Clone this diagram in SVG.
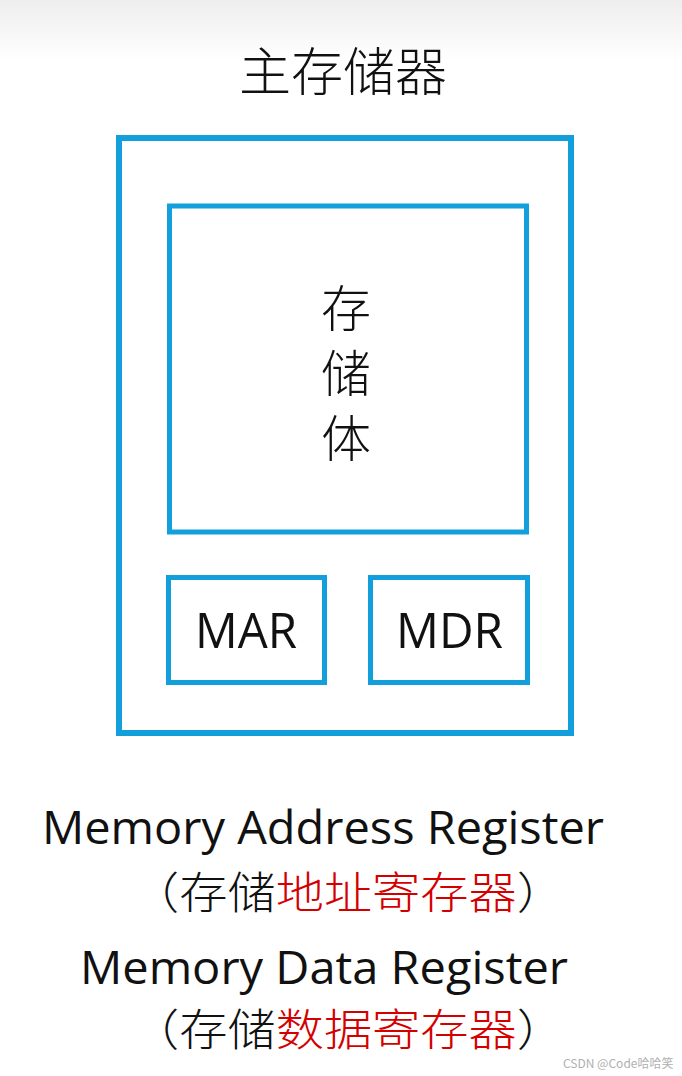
<svg xmlns="http://www.w3.org/2000/svg" width="682" height="1076" viewBox="0 0 682 1076">
<defs>
<linearGradient id="bg" x1="0" y1="0" x2="0" y2="1">
<stop offset="0" stop-color="#eeeeee"/>
<stop offset="1" stop-color="#ffffff"/>
</linearGradient>
<style>
.box{fill:none;stroke:#129fdc;}
.cjk{font-family:"Noto Sans CJK SC","Noto Sans",sans-serif;font-weight:300;fill:#111;}
.lat{font-family:"Open Sans","Noto Sans","Liberation Sans",sans-serif;fill:#111;}
.red{fill:#d40000;}
</style>
</defs>
<rect x="0" y="0" width="682" height="1076" fill="#ffffff"/>
<rect x="0" y="0" width="682" height="60" fill="url(#bg)"/>
<g id="title"><text class="cjk" x="343" y="91" font-size="52" text-anchor="middle">主存储器</text></g>
<g id="main-memory"><rect class="box" x="119" y="138" width="452" height="595" stroke-width="6"/></g>
<g id="storage-body">
<rect class="box" x="169.5" y="206" width="357" height="326" stroke-width="5"/>
<text class="cjk" x="346" y="327" font-size="50" text-anchor="middle">存</text>
<text class="cjk" x="346" y="392" font-size="50" text-anchor="middle">储</text>
<text class="cjk" x="346" y="457" font-size="50" text-anchor="middle">体</text>
</g>
<g id="mar">
<rect class="box" x="168.5" y="577.5" width="156" height="105" stroke-width="5"/>
<text class="lat" x="195" y="648" font-size="50" textLength="102" lengthAdjust="spacingAndGlyphs">MAR</text>
</g>
<g id="mdr">
<rect class="box" x="370.5" y="577.5" width="157" height="105" stroke-width="5"/>
<text class="lat" x="396" y="648" font-size="50" textLength="107" lengthAdjust="spacingAndGlyphs">MDR</text>
</g>
<g id="connectors"></g>
<g id="legend-mar">
<text class="lat" x="42" y="844" font-size="46" textLength="562" lengthAdjust="spacingAndGlyphs">Memory Address Register</text>
<text class="cjk" x="131" y="909" font-size="44" textLength="434" lengthAdjust="spacingAndGlyphs">（存储<tspan class="red">地址寄存器</tspan>）</text>
</g>
<g id="legend-mdr">
<text class="lat" x="80" y="984" font-size="46" textLength="488" lengthAdjust="spacingAndGlyphs">Memory Data Register</text>
<text class="cjk" x="131" y="1046" font-size="44" textLength="434" lengthAdjust="spacingAndGlyphs">（存储<tspan class="red">数据寄存器</tspan>）</text>
</g>
<g id="watermark"><text x="563" y="1068" font-size="12" fill="#b0b0b0" font-family="Noto Sans CJK SC, sans-serif">CSDN @Code哈哈笑</text></g>
</svg>
